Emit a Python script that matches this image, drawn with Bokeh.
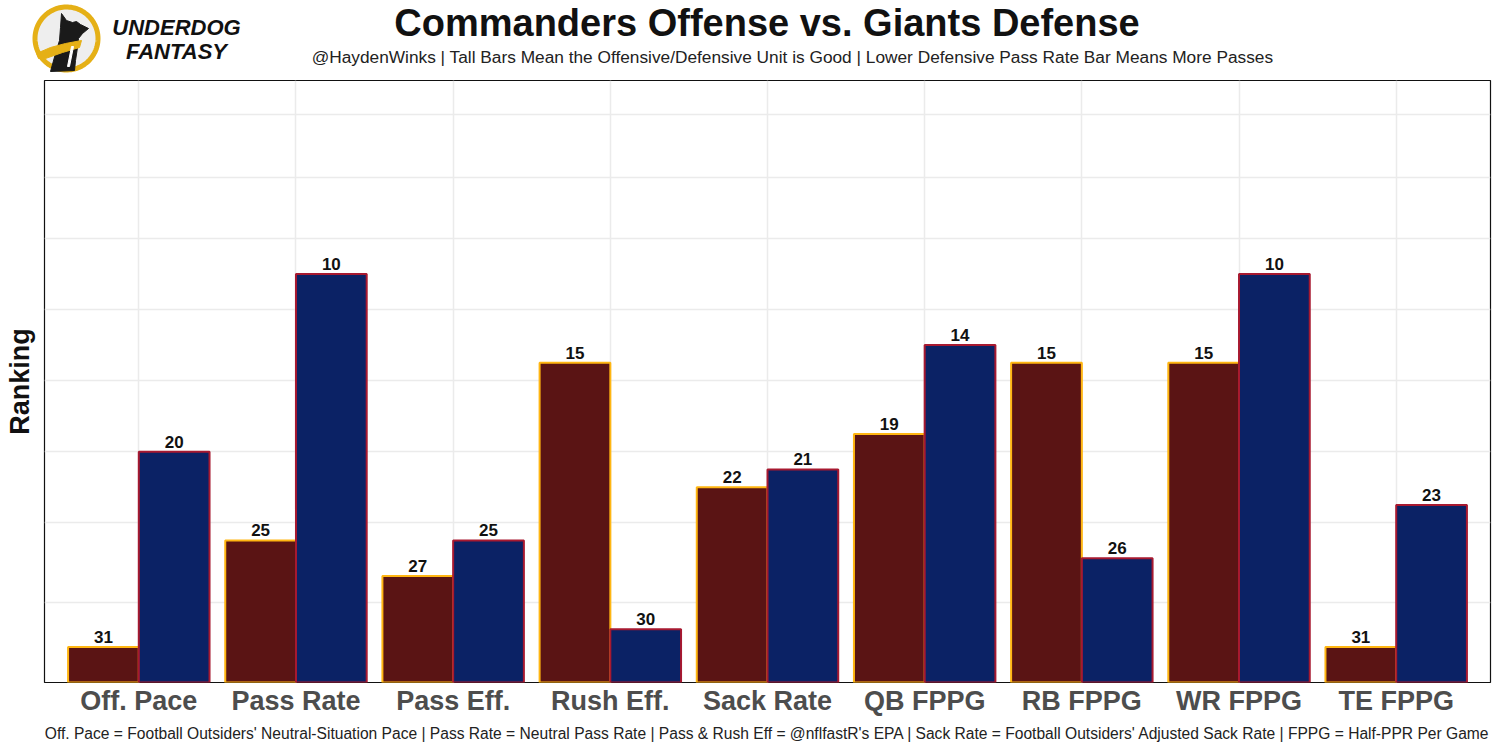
import numpy as np
from bokeh.plotting import figure
from bokeh.models import ColumnDataSource, Range1d, FixedTicker
from bokeh.transform import dodge
from bokeh.layouts import column, row
from bokeh.core.properties import value
from bokeh.embed import file_html
from bokeh.resources import INLINE

# ---------------- data ----------------
categories = ["Off. Pace", "Pass Rate", "Pass Eff.", "Rush Eff.", "Sack Rate",
              "QB FPPG", "RB FPPG", "WR FPPG", "TE FPPG"]
offense_rank = [31, 25, 27, 15, 22, 19, 15, 15, 31]   # Commanders offense
defense_rank = [20, 10, 25, 30, 21, 14, 26, 10, 23]   # Giants defense
n_teams = 32
grid_levels = [4.5, 9, 13, 17, 21, 25, 28.45, 32]

title_text = "Commanders Offense vs. Giants Defense"
subtitle_text = ("@HaydenWinks | Tall Bars Mean the Offensive/Defensive Unit is Good | "
                 "Lower Defensive Pass Rate Bar Means More Passes")
caption_text = ("Off. Pace = Football Outsiders' Neutral-Situation Pace | Pass Rate = Neutral Pass Rate | "
                "Pass & Rush Eff = @nflfastR's EPA | Sack Rate = Football Outsiders' Adjusted Sack Rate | "
                "FPPG = Half-PPR Per Game")

FONT = "Liberation Sans"
W = 1500
HH = 78            # header height
MH = 672           # main figure height
FL, FR, FT, FB = 44, 1490, 80, 682          # frame edges in page pixels

# ---------------- header (logo + titles), pixel coordinates ----------------
hdr = figure(width=W, height=HH, x_range=Range1d(0, W), y_range=Range1d(HH, 0),
             x_axis_location=None, y_axis_location=None,
             output_backend="svg", toolbar_location=None)
hdr.grid.visible = False
hdr.outline_line_color = None
hdr.min_border = 0
hdr.min_border_left = hdr.min_border_right = hdr.min_border_top = hdr.min_border_bottom = 0
hdr.background_fill_color = "white"
hdr.border_fill_color = "white"

t = np.linspace(0, 2 * np.pi, 120)
cx, cy, r = 66, 38, 31.5
hdr.patch(x=cx + r * np.cos(t), y=cy + r * np.sin(t), fill_color="#EEEEEE",
          line_color="#E5B016", line_width=5)
dog_x = [61, 66, 72, 76, 80, 88, 82, 78, 77, 75, 74, 50, 55, 59, 60]
dog_y = [13, 20, 22, 21, 24, 28, 33, 38, 47, 60, 70, 71, 53, 40, 27]
hdr.patch(x=dog_x, y=dog_y, fill_color="#1A1A1A", line_color="#1A1A1A")
scarf_x = [36, 50, 65, 81, 79, 62, 45, 38]
scarf_y = [53, 47, 43, 40, 47, 52, 58, 58]
hdr.patch(x=scarf_x, y=scarf_y, fill_color="#E5B016", line_color="#E5B016")
hdr.patch(x=[71, 73, 69, 67], y=[46, 46, 66, 66], fill_color="white", line_color="white")

hdr.text(x=[176], y=[39.5], text=["UNDERDOG"], text_font=value(FONT), text_font_size="22px",
         text_font_style="bold italic", text_color="#111111", text_align="center",
         text_baseline="bottom")
hdr.text(x=[176], y=[63.5], text=["FANTASY"], text_font=value(FONT), text_font_size="22px",
         text_font_style="bold italic", text_color="#111111", text_align="center",
         text_baseline="bottom")
hdr.text(x=[766.5], y=[43], text=[title_text], text_font=value(FONT), text_font_size="38px",
         text_font_style="bold", text_color="#111111", text_align="center",
         text_baseline="bottom")
hdr.text(x=[792], y=[66.5], text=[subtitle_text], text_font=value(FONT), text_font_size="17.3px",
         text_color="#222222", text_align="center", text_baseline="bottom")

# ---------------- main chart ----------------
xpos = list(range(1, len(categories) + 1))
off_h = [n_teams + 1 - r for r in offense_rank]
def_h = [n_teams + 1 - r for r in defense_rank]
src = ColumnDataSource(dict(x=xpos, off=off_h, de=def_h,
                            off_lab=[str(r) for r in offense_rank],
                            def_lab=[str(r) for r in defense_rank]))

p = figure(width=W, height=MH, x_range=Range1d(0.4, 9.6), y_range=Range1d(0, 33.9),
           output_backend="svg", toolbar_location=None)
p.min_border_left = FL
p.min_border_right = W - FR
p.min_border_top = FT - HH
p.min_border_bottom = HH + MH - FB
p.outline_line_color = "#111111"
p.outline_line_width = 1.2
p.background_fill_color = "white"
p.border_fill_color = "white"

p.vbar(x=dodge("x", -0.225), top="off", width=0.45, bottom=0, source=src,
       fill_color="#5A1414", line_color="#FFB612", line_width=2)
p.vbar(x=dodge("x", 0.225), top="de", width=0.45, bottom=0, source=src,
       fill_color="#0B2265", line_color="#A71930", line_width=2)

p.text(x=dodge("x", -0.225), y="off", text="off_lab", source=src,
       text_font=value(FONT), text_font_size="17px", text_font_style="bold",
       text_color="#111111", text_align="center", text_baseline="bottom", y_offset=-4)
p.text(x=dodge("x", 0.225), y="de", text="def_lab", source=src,
       text_font=value(FONT), text_font_size="17px", text_font_style="bold",
       text_color="#111111", text_align="center", text_baseline="bottom", y_offset=-4)

# grids
p.xgrid.grid_line_color = "#EBEBEB"
p.xgrid.grid_line_width = 1.5
p.ygrid.grid_line_color = "#EBEBEB"
p.ygrid.grid_line_width = 1.5
p.ygrid.ticker = FixedTicker(ticks=grid_levels)

# y axis: only the title "Ranking" (no tick labels)
p.yaxis.ticker = FixedTicker(ticks=[])
p.yaxis.major_tick_out = 0
p.yaxis.major_tick_in = 0
p.yaxis.minor_tick_out = 0
p.yaxis.minor_tick_in = 0
p.yaxis.major_label_standoff = 0
p.yaxis.axis_line_color = None
p.yaxis.axis_label = "Ranking"
p.yaxis.axis_label_text_font = FONT
p.yaxis.axis_label_text_font_size = "27px"
p.yaxis.axis_label_text_font_style = "bold"
p.yaxis.axis_label_text_color = "#111111"
p.yaxis.axis_label_standoff = 10

# x axis: categories + caption
p.xaxis.ticker = FixedTicker(ticks=xpos)
p.xaxis.major_label_overrides = {x: c for x, c in zip(xpos, categories)}
p.xaxis.major_tick_out = 0
p.xaxis.major_tick_in = 0
p.xaxis.minor_tick_out = 0
p.xaxis.minor_tick_in = 0
p.xaxis.axis_line_color = None
p.xaxis.major_label_text_font = FONT
p.xaxis.major_label_text_font_size = "27px"
p.xaxis.major_label_text_font_style = "bold"
p.xaxis.major_label_text_color = "#4D4D4D"
p.xaxis.major_label_standoff = 3
p.xaxis.axis_label = caption_text
p.xaxis.axis_label_text_font = FONT
p.xaxis.axis_label_text_font_size = "15.6px"
p.xaxis.axis_label_text_font_style = "normal"
p.xaxis.axis_label_text_color = "#222222"
p.xaxis.axis_label_standoff = 6

layout = column(row(hdr), p, spacing=0)
open("out.html", "w").write(file_html(layout, INLINE))
